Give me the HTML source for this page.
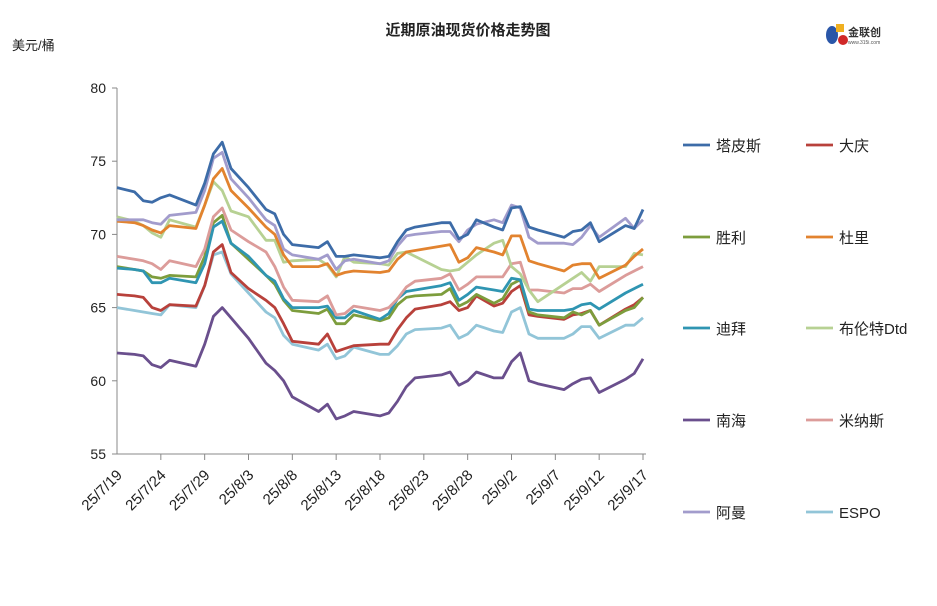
<!DOCTYPE html>
<html><head><meta charset="utf-8"><style>
body{margin:0;background:#fff;}
svg text{font-family:"Liberation Sans","Noto Sans CJK SC",sans-serif;}
</style></head><body>
<svg id="chart" width="937" height="601" viewBox="0 0 937 601" xmlns="http://www.w3.org/2000/svg">
<rect width="937" height="601" fill="#fff"/>
<text x="468" y="35" text-anchor="middle" font-size="15" font-weight="bold" fill="#222">近期原油现货价格走势图</text>
<text x="12" y="50" font-size="13" fill="#222">美元/桶</text>
<g>
<ellipse cx="832" cy="35" rx="6" ry="9" fill="#2a56a8"/>
<rect x="836" y="24" width="8" height="8" fill="#f0b020"/>
<ellipse cx="843" cy="40" rx="5" ry="5" fill="#d02828"/>
<text x="848" y="36" font-size="11" font-weight="bold" fill="#333">金联创</text>
<text x="848" y="44" font-size="5" fill="#555">www.315i.com</text>
</g>
<g id="axes"></g>
<g id="series"></g>
<g id="legend"></g>
</svg>
<script>
const days=[0,2,3,4,5,6,9,10,11,12,13,15,17,18,19,20,23,24,25,26,27,30,31,32,33,34,37,38,39,40,41,43,44,45,46,47,48,51,52,53,54,55,58,59,60];
const xTickLabels=["25/7/19","25/7/24","25/7/29","25/8/3","25/8/8","25/8/13","25/8/18","25/8/23","25/8/28","25/9/2","25/9/7","25/9/12","25/9/17"];
const xTickDays=[0,5,10,15,20,25,30,35,40,45,50,55,60];
const yTicks=[55,60,65,70,75,80];
const seriesNames=["塔皮斯","大庆","胜利","杜里","迪拜","布伦特Dtd","南海","米纳斯","阿曼","ESPO"];
const seriesColors=["#3d6ca8","#b8413b","#7d9d3d","#e2832f","#2f95b2","#b7d193","#6a4f8d","#dc9c9a","#a29ccc","#92c5d8"];
const tapis=[73.2,72.9,72.3,72.2,72.5,72.7,72.0,73.5,75.5,76.3,74.5,73.2,71.7,71.4,70.0,69.3,69.1,69.5,68.5,68.5,68.6,68.4,68.5,69.5,70.3,70.5,70.8,70.8,69.7,70.0,71.0,70.5,70.3,71.8,71.9,70.5,70.3,69.8,70.2,70.3,70.8,69.5,70.6,70.4,71.7];
const daqing=[65.9,65.8,65.7,65.0,64.8,65.2,65.1,66.5,68.8,69.3,67.4,66.3,65.5,65.0,63.9,62.7,62.5,63.2,62.0,62.2,62.4,62.5,62.5,63.5,64.3,64.9,65.2,65.4,64.8,65.0,65.8,65.1,65.3,66.1,66.5,64.5,64.4,64.2,64.5,64.6,64.8,63.8,64.9,65.2,65.7];
const shengli=[67.8,67.6,67.5,67.1,67.0,67.2,67.1,68.5,70.8,71.3,69.4,68.3,67.2,66.6,65.5,64.8,64.6,64.9,63.9,63.9,64.5,64.1,64.3,65.2,65.7,65.8,65.9,66.3,65.1,65.4,65.9,65.3,65.6,66.6,66.9,64.7,64.5,64.3,64.7,64.5,64.8,63.8,64.8,65.0,65.7];
const duri=[70.9,70.8,70.6,70.3,70.1,70.6,70.4,72.0,73.8,74.5,73.0,71.8,70.5,70.0,68.6,67.8,67.8,68.0,67.2,67.4,67.5,67.4,67.5,68.3,68.8,68.9,69.2,69.3,68.1,68.4,69.1,68.8,68.6,69.9,69.9,68.2,68.0,67.5,67.9,68.0,68.0,67.0,67.9,68.5,69.0];
const dubai=[67.7,67.6,67.5,66.7,66.7,67.0,66.7,68.0,70.5,70.9,69.4,68.5,67.2,66.8,65.6,65.0,65.0,65.1,64.3,64.3,64.8,64.2,64.6,65.6,66.1,66.2,66.5,66.7,65.5,65.9,66.4,66.2,66.1,67.0,66.9,64.9,64.8,64.8,64.9,65.2,65.3,64.9,66.0,66.3,66.6];
const brent=[71.2,70.9,70.6,70.1,69.8,71.0,70.5,72.0,73.6,73.0,71.6,71.2,69.6,69.6,68.1,68.2,68.3,67.9,67.1,68.5,68.1,68.0,67.9,68.7,68.8,68.5,67.6,67.5,67.6,68.1,68.6,69.4,69.6,67.8,67.3,66.2,65.4,66.6,67.0,67.4,66.8,67.8,67.8,68.7,68.6];
const nanhai=[61.9,61.8,61.7,61.1,60.9,61.4,61.0,62.5,64.4,65.0,64.3,62.9,61.2,60.7,60.0,58.9,57.9,58.4,57.4,57.6,57.9,57.6,57.8,58.6,59.6,60.2,60.4,60.6,59.7,60.0,60.6,60.2,60.2,61.3,61.9,60.0,59.8,59.4,59.8,60.1,60.2,59.2,60.1,60.5,61.5];
const minas=[68.5,68.3,68.2,68.0,67.6,68.2,67.8,69.0,71.2,71.8,70.3,69.5,68.8,67.8,66.4,65.5,65.4,65.8,64.5,64.6,65.1,64.8,65.0,65.6,66.4,66.8,67.0,67.3,66.2,66.6,67.1,67.1,67.1,68.0,68.1,66.2,66.2,66.0,66.3,66.3,66.6,66.1,67.2,67.5,67.8];
const oman=[71.0,71.0,71.0,70.8,70.7,71.3,71.5,73.0,75.2,75.6,73.8,72.5,71.0,70.6,69.0,68.6,68.3,68.6,67.6,68.2,68.3,68.0,68.2,69.2,69.9,70.0,70.2,70.2,69.5,70.3,70.7,71.0,70.8,72.0,71.8,69.8,69.4,69.4,69.3,69.8,70.6,69.8,71.1,70.4,71.0];
const espo=[65.0,64.8,64.7,64.6,64.5,65.2,65.0,66.5,68.6,68.8,67.3,66.0,64.7,64.3,63.1,62.5,62.1,62.5,61.5,61.7,62.3,61.8,61.8,62.4,63.2,63.5,63.6,63.8,62.9,63.2,63.8,63.4,63.3,64.7,65.0,63.2,62.9,62.9,63.2,63.7,63.7,62.9,63.8,63.8,64.3];
const allSeries=[tapis,daqing,shengli,duri,dubai,brent,nanhai,minas,oman,espo];
const drawOrder=[6,9,1,2,4,7,5,3,8,0];

const NS="http://www.w3.org/2000/svg";
const X0=117,X1=643,Y0=454,Y1=88,DMAX=60,VMIN=55,VMAX=80;
function xs(d){return X0+(d/DMAX)*(X1-X0);}
function ys(v){return Y0-(v-VMIN)/(VMAX-VMIN)*(Y0-Y1);}
function mk(tag,attrs,parent){const e=document.createElementNS(NS,tag);for(const k in attrs)e.setAttribute(k,attrs[k]);parent.appendChild(e);return e;}
const axes=document.getElementById('axes');
let yl=mk('line',{x1:X0,y1:Y1,x2:X0,y2:Y0,stroke:'#888','stroke-width':1},axes);


let xl=mk('line',{x1:X0,y1:Y0,x2:X1+3,y2:Y0,stroke:'#888','stroke-width':1},axes);


yTicks.forEach(v=>{
  const y=ys(v);
  mk('line',{x1:X0-5,y1:y,x2:X0,y2:y,stroke:'#888'},axes);
  const t=mk('text',{x:X0-11,y:y+5,'text-anchor':'end','font-size':14,fill:'#222'},axes);
  t.textContent=v;
  
  
});
xTickDays.forEach((d,i)=>{
  const x=xs(d);
  if(i>0)mk('line',{x1:x,y1:Y0,x2:x,y2:Y0+6,stroke:'#888'},axes);
  const t=mk('text',{x:0,y:0,'text-anchor':'end','font-size':15,fill:'#222',transform:`translate(${x+6},${Y0+22}) rotate(-45)`},axes);
  t.textContent=xTickLabels[i];
  
  
});
const sg=document.getElementById('series');
drawOrder.forEach(i=>{
  const pts=allSeries[i].map((v,j)=>xs(days[j]).toFixed(1)+','+ys(v).toFixed(1)).join(' ');
  const p=mk('polyline',{points:pts,fill:'none',stroke:seriesColors[i],'stroke-width':2.8,'stroke-linejoin':'round'},sg);
  
  
});
const lg=document.getElementById('legend');
const rowsY=[145,237,328,420,512];
seriesNames.forEach((n,i)=>{
  const col=i%2,row=Math.floor(i/2);
  const x=col?806:683,y=rowsY[row];
  const g=mk('g',{},lg);
  
  
  mk('line',{x1:x,y1:y,x2:x+27,y2:y,stroke:seriesColors[i],'stroke-width':2.8},g);
  const t=mk('text',{x:x+33,y:y+6,'font-size':15,fill:'#222'},g);
  t.textContent=n;
});
</script>
</body></html>
